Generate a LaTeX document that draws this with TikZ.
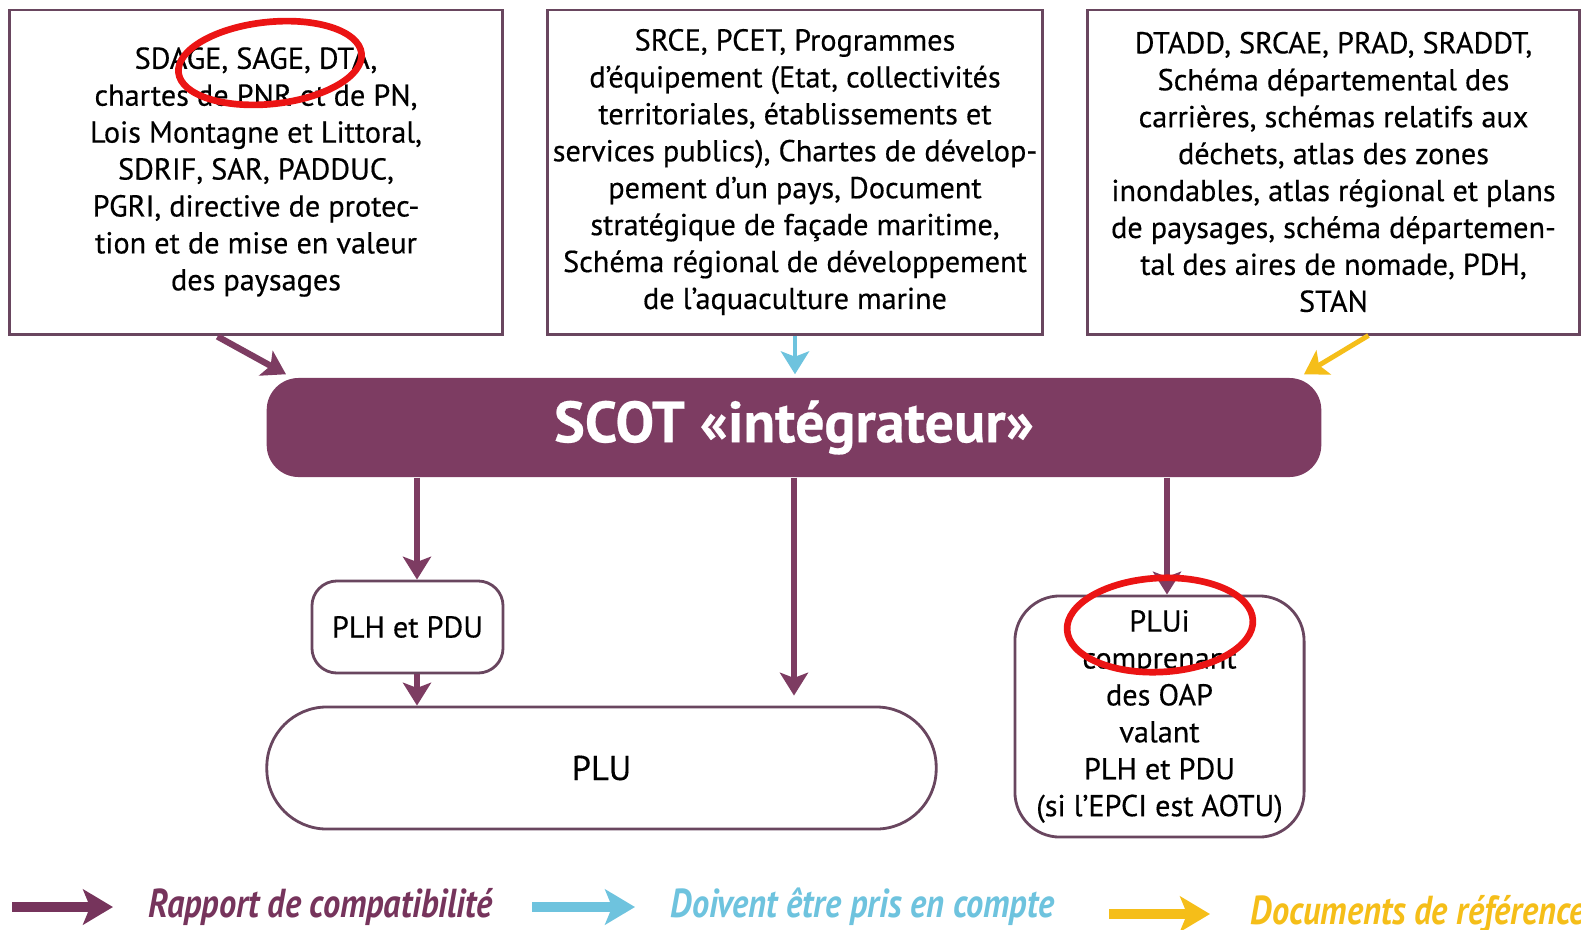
\documentclass[tikz,border=0pt]{standalone}
\usepackage{fontspec}
\setmainfont{PT Sans}[FakeBold=0.4]
\newfontfamily\legendfont{PT Sans}[FakeStretch=0.85]
\usetikzlibrary{arrows.meta,positioning}

\definecolor{scotplum}{RGB}{125,60,98}
\definecolor{boxline}{RGB}{105,70,95}
\definecolor{prisblue}{RGB}{110,195,222}
\definecolor{refyellow}{RGB}{245,190,25}
\definecolor{legplum}{RGB}{118,52,92}
\definecolor{markred}{RGB}{235,20,20}

\begin{document}
\begin{tikzpicture}[x=0.01cm,y=-0.01cm,
  docbox/.style={draw=boxline,line width=0.8pt,fill=white,align=center,inner sep=0pt,text=black,font=\fontsize{8.6}{10.5}\selectfont},
  planbox/.style={docbox,rounded corners=#1},
  compat/.style={scotplum,line width=1.8pt,-{Stealth[length=6.5pt,width=8pt,inset=1.5pt]}},
  priscompte/.style={compat,prisblue,line width=1.4pt},
  refarrow/.style={compat,refyellow,line width=1.4pt},
  legarrow/.style={line width=2.6pt,-{Stealth[length=8.5pt,width=10pt,inset=2pt]}},
  legtext/.style={anchor=west,inner sep=0pt,font=\legendfont\bfseries\itshape\fontsize{11.5}{13}\selectfont},
  redring/.style={markred,line width=1.9pt}]
  \useasboundingbox (0,0) rectangle (1581,930);
  \node[docbox,minimum width=4.92cm,minimum height=3.24cm] (sdage) at (256,172)
    {SDAGE, SAGE, DTA,\\chartes de PNR et de PN,\\Lois Montagne et Littoral,\\SDRIF, SAR, PADDUC,\\PGRI, directive de protec-\\tion et de mise en valeur\\des paysages};
  \node[docbox,minimum width=4.94cm,minimum height=3.24cm] (srce) at (795,172)
    {SRCE, PCET, Programmes\\d’équipement (Etat, collectivités\\territoriales, établissements et\\services publics), Chartes de dévelop-\\pement d’un pays, Document\\stratégique de façade maritime,\\Schéma régional de développement\\de l’aquaculture marine};
  \node[docbox,minimum width=4.91cm,minimum height=3.24cm] (dtadd) at (1333.5,172)
    {DTADD, SRCAE, PRAD, SRADDT,\\Schéma départemental des\\carrières, schémas relatifs aux\\déchets, atlas des zones\\inondables, atlas régional et plans\\de paysages, schéma départemen-\\tal des aires de nomade, PDH,\\STAN};
  \node[fill=scotplum,rounded corners=0.32cm,minimum width=10.54cm,minimum height=0.99cm,text=white,font=\bfseries\fontsize{16.5}{19}\selectfont] (scot) at (794,427.5) {SCOT «intégrateur»};
  \node[planbox=0.25cm,minimum width=1.91cm,minimum height=0.92cm] (plh) at (407.5,627) {PLH et PDU};
  \node[planbox=0.6cm,minimum width=6.69cm,minimum height=1.22cm,font=\fontsize{9.8}{12}\selectfont] (plu) at (601.5,768) {PLU};
  \node[planbox=0.45cm,minimum width=2.89cm,minimum height=2.41cm] (plui) at (1159.5,716.5)
    {PLUi\\comprenant\\des OAP\\valant\\PLH et PDU\\(si l’EPCI est AOTU)};
  \draw[compat] ([shift={(209,1)}]sdage.south west) -- ([shift={(20,-3)}]scot.north west);
  \draw[priscompte,shorten >=0.03cm] (srce.south) -- (srce.south |- scot.north);
  \draw[refarrow] ([shift={(282,0)}]dtadd.south west) -- ([shift={(-18,-3)}]scot.north east);
  \coordinate (plhin) at ([xshift=0.095cm]plh.north);
  \coordinate (plhout) at ([xshift=0.095cm]plh.south);
  \coordinate (pluiin) at ([xshift=0.075cm]plui.north);
  \draw[compat] (plhin |- scot.south) -- (plhin);
  \draw[compat,shorten >=0.1cm] (scot.south) -- (scot.south |- plu.north);
  \draw[compat] (pluiin |- scot.south) -- (pluiin);
  \draw[compat] (plhout) -- (plhout |- plu.north);
  \coordinate (lcs) at (12,907);
  \coordinate (lce) at (113,907);
  \coordinate (lps) at (532,907);
  \coordinate (lpe) at (635,907);
  \coordinate (lrs) at (1109,914);
  \coordinate (lre) at (1210,914);
  \draw[legarrow,legplum] (lcs) -- (lce);
  \draw[legarrow,prisblue] (lps) -- (lpe);
  \draw[legarrow,refyellow] (lrs) -- (lre);
  \node[legtext,text=legplum,right=0.35cm of lce] (lcompat) {Rapport de compatibilité};
  \node[legtext,text=prisblue,right=0.35cm of lpe] (lpris) {Doivent être pris en compte};
  \node[legtext,text=refyellow,right=0.4cm of lre] (lref) {Documents de référence};
  \draw[redring,rotate around={6:(270,63)}] (270,63) ellipse [x radius=92,y radius=41];
  \draw[redring,rotate around={3:(1160,625)}] (1160,625) ellipse [x radius=93,y radius=47];
\end{tikzpicture}
\end{document}
